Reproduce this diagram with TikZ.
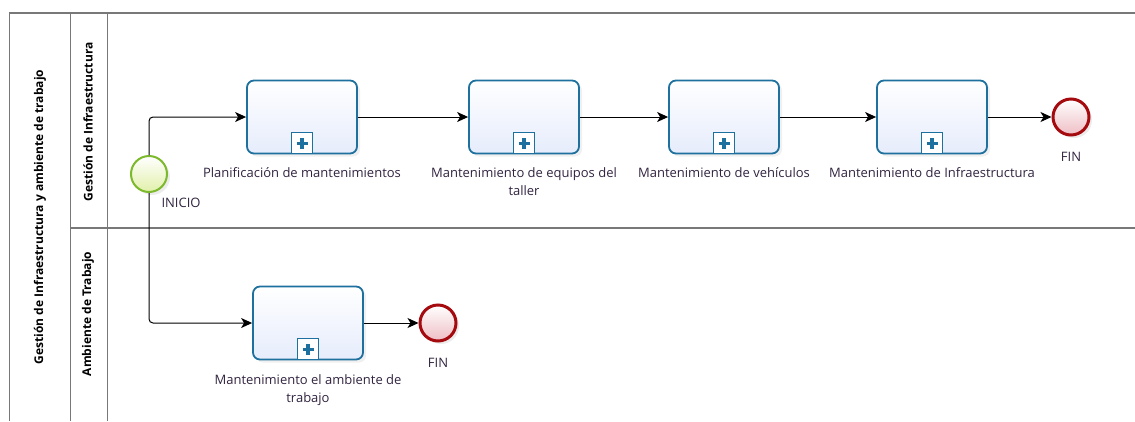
\documentclass[tikz,border=0pt]{standalone}
\usepackage{fontspec}
\setmainfont{Open Sans}
\usetikzlibrary{arrows.meta,shadows,positioning}
\definecolor{taskline}{RGB}{30,112,158}
\definecolor{taskfill}{RGB}{230,236,252}
\definecolor{startline}{RGB}{125,185,45}
\definecolor{startfill}{RGB}{225,240,170}
\definecolor{endline}{RGB}{165,10,15}
\definecolor{endfill}{RGB}{238,190,196}
\definecolor{txt}{RGB}{50,36,64}
\definecolor{poolline}{RGB}{120,120,120}
\begin{document}
\begin{tikzpicture}[x=1pt,y=-1pt,
  task/.style={draw=taskline, line width=1.8pt, rounded corners=7pt,
    minimum width=110pt, minimum height=73pt, inner sep=0pt,
    top color=white, bottom color=taskfill,
    drop shadow={opacity=0.12, shadow xshift=3pt, shadow yshift=-3pt}},
  marker/.style={draw=taskline, line width=1.6pt, fill=white, minimum size=21pt, inner sep=0pt, anchor=south},
  plus/.style={draw=taskline, line width=3.2pt},
  startev/.style={circle, draw=startline, line width=2pt, minimum size=36pt, inner sep=0pt,
    top color=white, bottom color=startfill,
    drop shadow={opacity=0.15, shadow xshift=3pt, shadow yshift=-3pt}},
  endev/.style={circle, draw=endline, line width=3pt, minimum size=36pt, inner sep=0pt,
    top color=white, bottom color=endfill,
    drop shadow={opacity=0.15, shadow xshift=3pt, shadow yshift=-3pt}},
  flow/.style={draw=black, line width=1pt, -{Stealth[length=11pt,width=10pt,inset=3pt]}},
  lbl/.style={inner sep=0pt, outer sep=0pt, align=center, text=txt, font=\fontsize{13}{18}\selectfont},
  title/.style={rotate=90, inner sep=0pt, text=black, font=\bfseries\fontsize{12}{14}\selectfont},
  poolln/.style={draw=poolline}
]
\useasboundingbox (0,0) rectangle (1135,421);

% pool and lanes
\draw[poolln, line width=1.4pt] (9,13) -- (1135,13);
\draw[poolln, line width=1pt] (9,13) -- (9,421);
\draw[poolln, line width=1pt] (70,13) -- (70,421);
\draw[poolln, line width=1pt] (107,13) -- (107,421);
\draw[poolln, line width=2pt] (70,228) -- (1135,228);

\node[title] (pooltitle) at (40,217) {Gestión de Infraestructura y ambiente de trabajo};
\node[title] (lane1) at (88,122) {Gestión de Infraestructura};
\node[title] (lane2) at (88,314) {Ambiente de Trabajo};

% events
\node[startev] (start) at (149,174) {};
\node[endev] (e1) at (1071,117) {};
\node[endev] (e2) at (438,323) {};

% tasks
\node[task] (t1) at (302,117) {};
\node[task] (t2) at (524,117) {};
\node[task] (t3) at (724,117) {};
\node[task] (t4) at (932,117) {};
\node[task] (t5) at (308,323) {};

\foreach \t in {t1,t2,t3,t4,t5}{
  \node[marker] (m\t) at (\t.south) {};
  \draw[plus] ([xshift=-5.5pt]m\t.center) -- ([xshift=5.5pt]m\t.center);
  \draw[plus] ([yshift=-5.5pt]m\t.center) -- ([yshift=5.5pt]m\t.center);
}

% labels
\node[lbl] (lstart) at (181,203) {INICIO};
\node[lbl] (le1) at (1071,157) {FIN};
\node[lbl] (le2) at (438,363) {FIN};
\node[lbl, anchor=north, below=13pt of t1] (l1) {Planificación de mantenimientos};
\node[lbl, anchor=north, below=13pt of t2] (l2) {Mantenimiento de equipos del\\taller};
\node[lbl, anchor=north, below=13pt of t3] (l3) {Mantenimiento de vehículos};
\node[lbl, anchor=north, below=13pt of t4] (l4) {Mantenimiento de Infraestructura};
\node[lbl, anchor=north, below=14pt of t5] (l5) {Mantenimiento el ambiente de\\trabajo};

% flows
\draw[flow, rounded corners=4pt] (start.north) |- (t1.west);
\draw[flow, rounded corners=4pt] (start.south) |- (t5.west);
\draw[flow] (t1.east) -- (t2.west);
\draw[flow] (t2.east) -- (t3.west);
\draw[flow] (t3.east) -- (t4.west);
\draw[flow] (t4.east) -- (e1.west);
\draw[flow] (t5.east) -- (e2.west);
\end{tikzpicture}
\end{document}
